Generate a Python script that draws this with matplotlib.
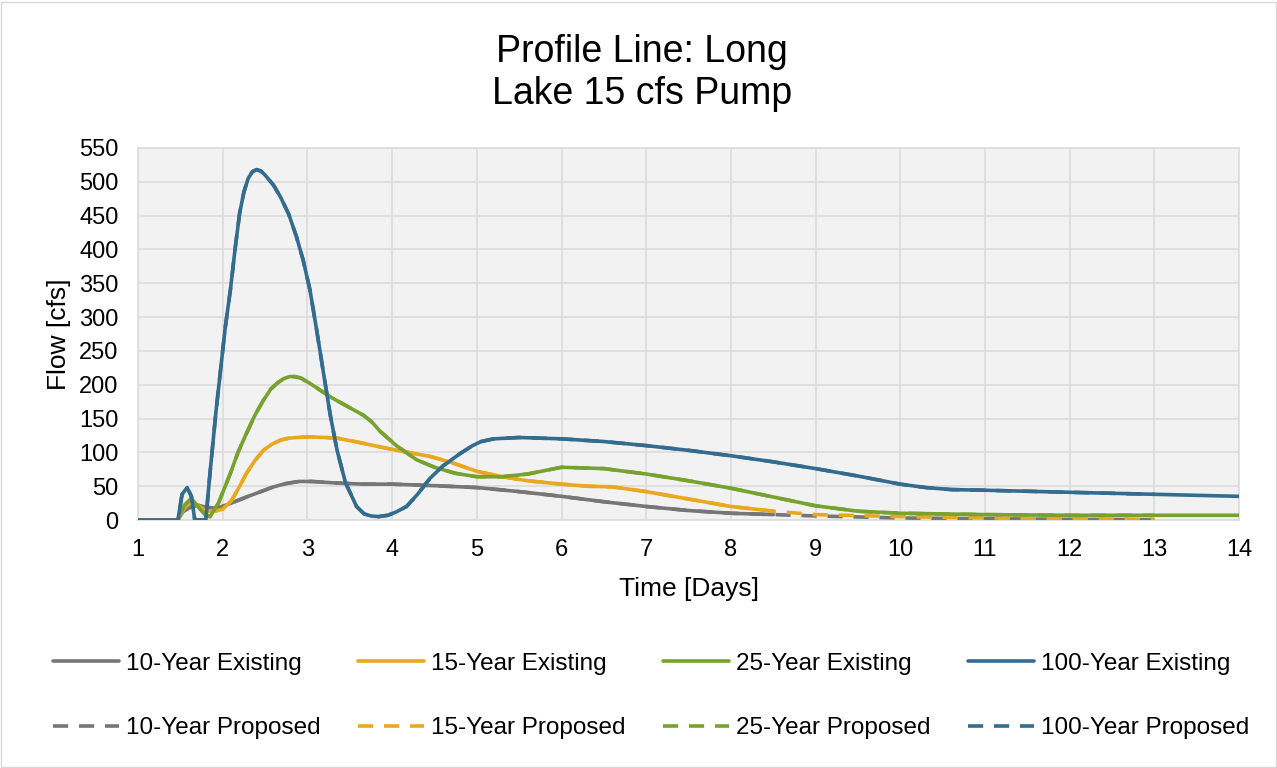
import matplotlib.pyplot as plt
from matplotlib.patches import Rectangle

plt.rcParams['font.family'] = ['Liberation Sans', 'DejaVu Sans']

# hydrograph ordinates (time in days, flow in cfs)
t_10 = [1.0, 1.47, 1.53, 1.6, 1.7, 1.8, 1.93, 2.1, 2.28, 2.45, 2.6, 2.75, 2.9, 3.05, 3.3, 3.66, 4.0, 4.45,
        5.0, 5.5, 6.0, 6.5, 7.0, 7.5, 8.0, 8.5, 9.0, 10.0, 11.0, 12.0, 13.0]
q_10 = [0, 0, 12, 18, 22, 19, 17, 25, 34, 42, 49, 54, 57, 57, 55, 53, 53, 51,
        48, 42, 35, 27, 20, 14, 10, 8, 6, 3, 2, 1, 0.5]

t_15 = [1.0, 1.47, 1.55, 1.62, 1.7, 1.8, 1.9, 2.0, 2.1, 2.2, 2.28, 2.38, 2.48, 2.58, 2.68, 2.78, 2.88, 3.03,
        3.2, 3.35, 3.6, 3.86, 4.1, 4.45, 4.7, 5.0, 5.3, 5.6, 6.0, 6.3, 6.6, 7.0, 7.5, 8.0, 8.5, 9.0, 10.0,
        11.0, 12.0, 13.0]
q_15 = [0, 0, 18, 26, 22, 14, 13, 16, 28, 50, 69, 88, 103, 112, 118, 121, 122, 123,
        122, 121, 115, 108, 102, 94, 85, 72, 64, 58, 53, 50, 49, 42, 31, 20, 13, 8, 5,
        3, 2, 1]

t_25 = [1.0, 1.47, 1.55, 1.63, 1.72, 1.8, 1.85, 1.95, 2.09, 2.18, 2.28, 2.38, 2.48, 2.57, 2.65, 2.72, 2.79,
        2.85, 2.92, 3.03, 3.15, 3.27, 3.5, 3.66, 3.76, 3.86, 4.05, 4.29, 4.5, 4.75, 5.0, 5.3, 5.6, 5.8,
        6.0, 6.5, 7.0, 7.5, 8.0, 8.5, 9.0, 9.5, 10.0, 11.0, 12.0, 13.0, 14.0]
q_25 = [0, 0, 22, 32, 18, 7, 5, 25, 69, 100, 128, 155, 177, 194, 203, 209, 212,
        212, 210, 202, 192, 182, 166, 155, 145, 131, 110, 89, 78, 69, 64, 64, 68, 73,
        78, 76, 68, 58, 47, 34, 21, 13, 10, 8, 7, 7, 7]

t_100 = [1.0, 1.47, 1.52, 1.58, 1.63, 1.67, 1.8, 1.85, 1.92, 1.97, 2.03, 2.09, 2.15, 2.2, 2.25, 2.3, 2.35,
         2.4, 2.45, 2.5, 2.6, 2.68, 2.78, 2.87, 2.95, 3.03, 3.11, 3.19, 3.27, 3.35, 3.45, 3.58, 3.67, 3.75,
         3.84, 3.95, 4.05, 4.17, 4.3, 4.45, 4.6, 4.8, 4.9, 4.95, 5.05, 5.2, 5.5, 6.0, 6.5, 7.0, 7.5, 8.0,
         8.5, 9.0, 9.5, 10.0, 10.3, 10.6, 11.0, 12.0, 13.0, 14.0]
q_100 = [0, 0, 38, 48, 35, 0, 0, 70, 160, 217, 285, 340, 405, 454, 485, 505, 515,
         518, 516, 510, 495, 478, 452, 419, 384, 340, 280, 217, 155, 103, 55, 20, 9, 6,
         5, 7, 12, 20, 38, 62, 80, 98, 106, 110, 116, 120, 122, 120, 116, 110, 103, 95,
         86, 76, 65, 53, 48, 45, 44, 41, 38, 35]

labels = ['10-Year', '15-Year', '25-Year', '100-Year']
colors = ['#767676', '#E9A820', '#77A22F', '#336C8F']
series = [(t_10, q_10), (t_15, q_15), (t_25, q_25), (t_100, q_100)]
# existing runs of the smaller storms stop before the proposed ones
existing_end = [8.7, 8.8, 14.0, 14.0]

fig = plt.figure(figsize=(12.77, 7.68), dpi=100)
fig.patches.append(Rectangle((0.001, 0.001), 0.998, 0.997, transform=fig.transFigure,
                             fill=False, edgecolor='#D9D9D9', linewidth=1.0))
ax = fig.add_axes([0.1081, 0.3229, 0.8622, 0.4844])
ax.set_facecolor('#F2F2F2')

handles = []
for lab, col, (t, q), t_end in zip(labels, colors, series, existing_end):
    tp = [x for x in t if x <= 13.0]
    qp = q[:len(tp)]
    te = [x for x in t if x <= t_end]
    qe = q[:len(te)]
    h_ex, = ax.plot(te, qe, color=col, lw=2.6, solid_joinstyle='round', solid_capstyle='round',
                    zorder=4, label=f'{lab} Existing')
    h_pr, = ax.plot(tp, qp, color=col, lw=2.6, linestyle=(0, (4.2, 3.0)), zorder=3,
                    label=f'{lab} Proposed')
    handles += [h_ex, h_pr]

ax.set_xlim(1, 14)
ax.set_ylim(0, 550)
ax.set_xticks(range(1, 15))
ax.set_yticks(range(0, 551, 50))
ax.grid(True, color='#DCDCDC', linewidth=1.2)
ax.set_axisbelow(True)
ax.tick_params(length=0, labelsize=17)
ax.tick_params(axis='x', pad=14)
ax.tick_params(axis='y', pad=14)
for sp in ax.spines.values():
    sp.set_color('#DCDCDC')
    sp.set_linewidth(1.2)

ax.set_xlabel('Time [Days]', fontsize=19, labelpad=11)
ax.set_ylabel('Flow [cfs]', fontsize=19, labelpad=6)
fig.text(0.503, 0.905, 'Profile Line: Long\nLake 15 cfs Pump', ha='center', va='center',
         fontsize=27, linespacing=1.2)

fig.legend(handles=handles, loc='center', bbox_to_anchor=(0.51, 0.094), ncol=4,
           frameon=False, fontsize=17.5, handlelength=2.7, handletextpad=0.3,
           columnspacing=1.55, labelspacing=1.75)

plt.savefig('out.png', dpi=100)
